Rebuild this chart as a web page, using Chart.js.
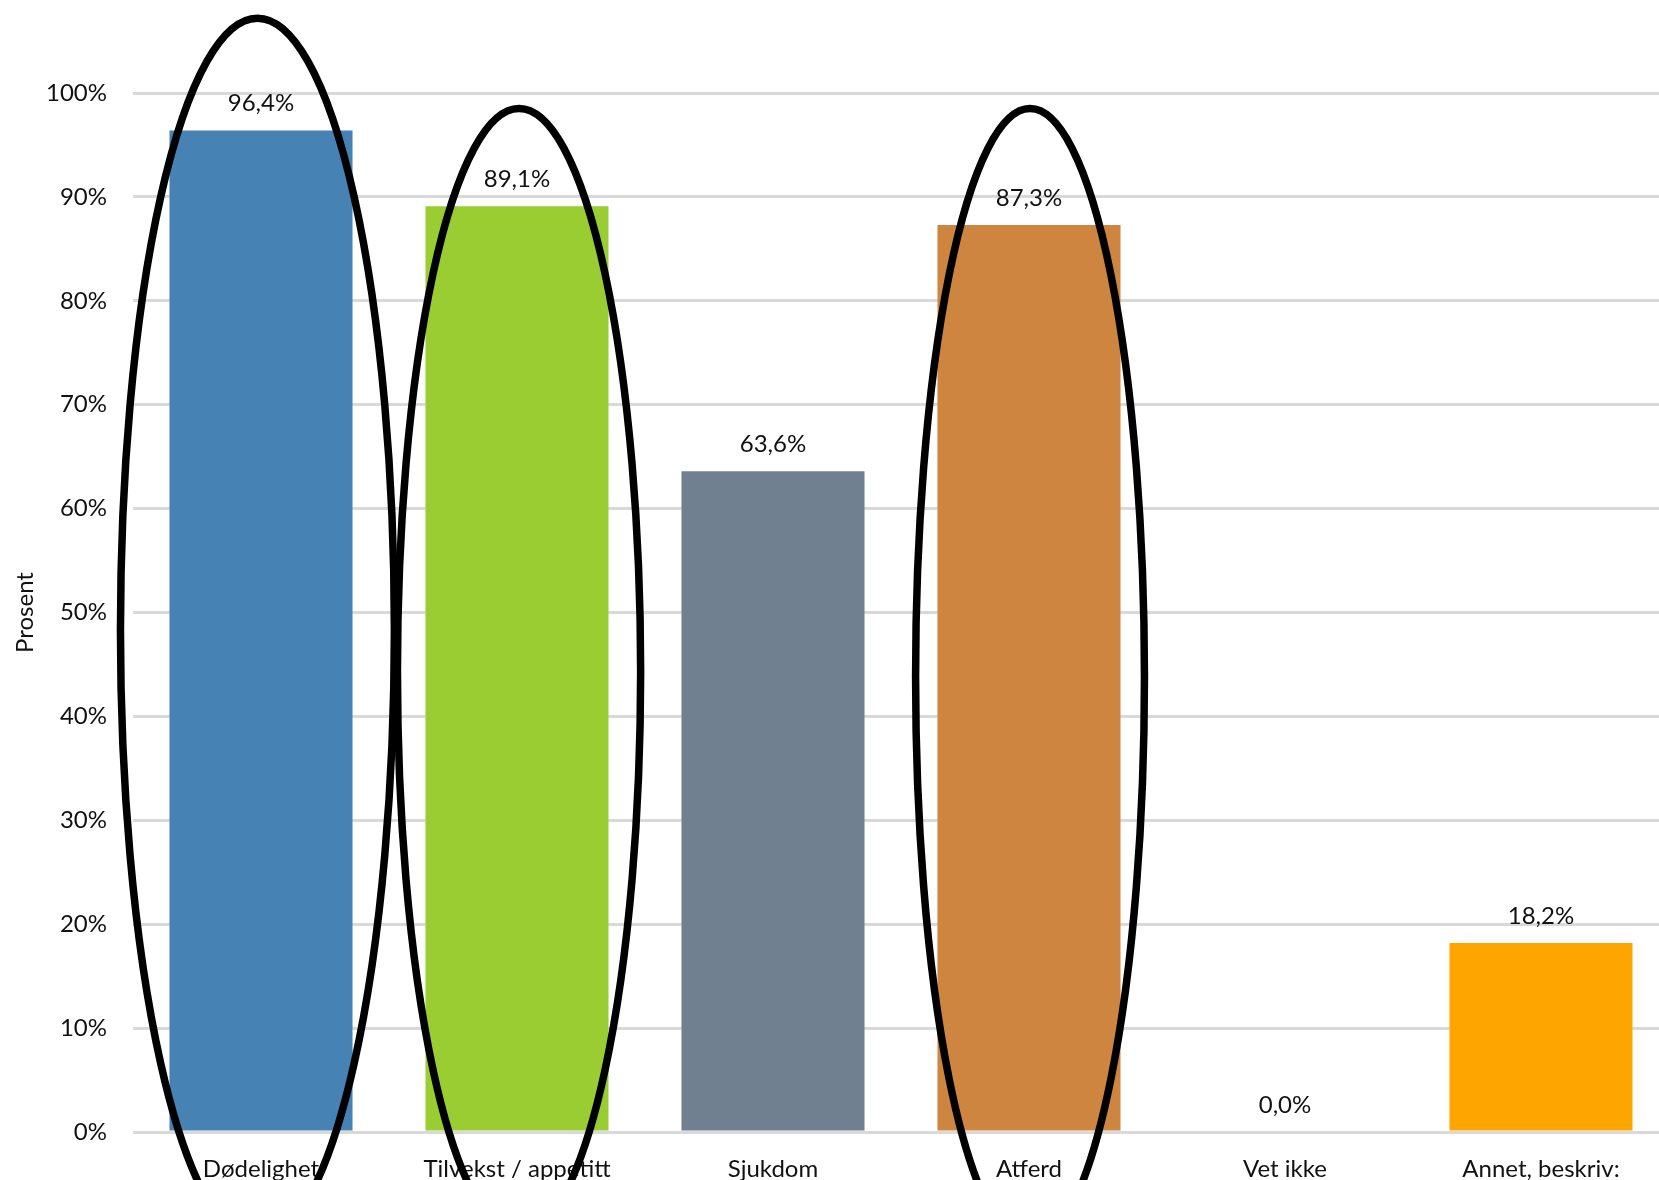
<!DOCTYPE html>
<html lang="no">
<head>
<meta charset="utf-8">
<title>Prosent</title>
<script src="https://cdn.jsdelivr.net/npm/chart.js@4.4.1/dist/chart.umd.min.js"></script>
<style>
    html, body { margin: 0; padding: 0; background: #fff; overflow: hidden; }
    .boks { width: 1669px; height: 1180px; }
</style>
</head>
<body>
<div class="boks"><canvas id="graf"></canvas></div>
<script>
const kategorier = ['Dødelighet', 'Tilvekst / appetitt', 'Sjukdom', 'Atferd', 'Vet ikke', 'Annet, beskriv:'];
const prosent = [96.4, 89.1, 63.6, 87.3, 0.0, 18.2];
const farger = ['#4682b4', '#9acd32', '#708090', '#cd853f', '#5b9bd5', '#ffa500'];
const yTicks = [0, 10, 20, 30, 40, 50, 60, 70, 80, 90, 100];

// ringer rundt utvalgte søyler: kategori, topp (%), midt (%), halv bredde (andel av kategori), forskyvning
const ringer = [
    { kat: 0, topp: 107.2, midt: 48.3, bredde: 0.535, dx: -0.014 },
    { kat: 1, topp: 98.5, midt: 44.3, bredde: 0.475, dx: 0.008 },
    { kat: 3, topp: 98.5, midt: 43.8, bredde: 0.447, dx: 0.004 },
];

const font = 'Lato, "Noto Sans", sans-serif';

function tall(v) {
    return v.toFixed(1).replace('.', ',') + '%';
}

const etiketter = {
    id: 'etiketter',
    afterDatasetsDraw(chart) {
        const ctx = chart.ctx;
        const meta = chart.getDatasetMeta(0);
        ctx.save();
        ctx.font = '24px ' + font;
        ctx.fillStyle = '#111';
        ctx.textAlign = 'center';
        ctx.textBaseline = 'middle';
        for (let i = 0; i < meta.data.length; i++) {
            const bar = meta.data[i];
            ctx.fillText(tall(prosent[i]), bar.x, bar.y - 27);
        }
        ctx.restore();
    }
};

const ellipser = {
    id: 'ellipser',
    afterDraw(chart) {
        const ctx = chart.ctx;
        const x = chart.scales.x;
        const y = chart.scales.y;
        const kat = (x.right - x.left) / kategorier.length;
        ctx.save();
        ctx.strokeStyle = '#000';
        ctx.lineWidth = 7.5;
        for (let r of ringer) {
            const cx = x.getPixelForValue(r.kat) + r.dx * kat;
            const cy = y.getPixelForValue(r.midt);
            const ry = cy - y.getPixelForValue(r.topp);
            ctx.beginPath();
            ctx.ellipse(cx, cy, r.bredde * kat, ry, 0, 0, Math.PI * 2);
            ctx.stroke();
        }
        ctx.restore();
    }
};

new Chart(document.querySelector('#graf'), {
    type: 'bar',
    data: {
        labels: kategorier,
        datasets: [{
            data: prosent,
            backgroundColor: farger,
            categoryPercentage: 1,
            barPercentage: 0.715,
        }],
    },
    options: {
        responsive: true,
        maintainAspectRatio: false,
        animation: false,
        layout: { padding: { top: 93, right: 0, bottom: 0, left: 0 } },
        plugins: {
            legend: { display: false },
            tooltip: { enabled: false },
        },
        scales: {
            x: {
                grid: { display: false },
                border: { display: false },
                ticks: {
                    color: '#111',
                    padding: 15,
                    maxRotation: 0,
                    autoSkip: false,
                    font: { family: font, size: 24 },
                },
                afterFit: (s) => { s.height = 48; },
            },
            y: {
                min: 0,
                max: 100,
                afterBuildTicks: (s) => { s.ticks = yTicks.map((v) => ({ value: v })); },
                grid: { color: '#d9d9d9', lineWidth: 3, drawTicks: false },
                border: { display: false },
                ticks: {
                    color: '#111',
                    padding: 26,
                    font: { family: font, size: 24 },
                    callback: (v) => v + '%',
                },
                title: {
                    display: true,
                    text: 'Prosent',
                    color: '#111',
                    padding: { top: 11, bottom: 0 },
                    font: { family: font, size: 24 },
                },
                afterFit: (s) => { s.width = 133; },
            },
        },
    },
    plugins: [etiketter, ellipser],
});
</script>
</body>
</html>
